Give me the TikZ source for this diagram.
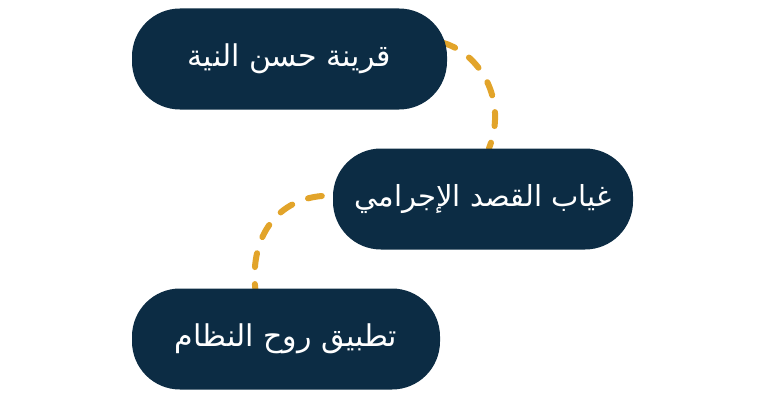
\documentclass[tikz,border=0pt]{standalone}
\usepackage{fontspec}
\usetikzlibrary{backgrounds}
\TeXXeTstate=1
\newfontfamily\arabicfont[Script=Arabic]{DejaVu Sans}
\definecolor{navy}{HTML}{0C2C44}
\definecolor{gold}{HTML}{E2A42A}
\begin{document}
\begin{tikzpicture}[x=1pt,y=-1pt,
  pill/.style={draw=none,fill=navy,rounded corners=48pt,text=white,
    font=\arabicfont\fontsize{30}{34}\selectfont,inner sep=0pt,minimum height=101pt},
  link/.style={draw=gold,line width=6pt,line cap=round,dash pattern=on 14pt off 17pt}]
\useasboundingbox (0,0) rectangle (768,420);
\node[pill,minimum width=315pt] (n1) at (289.5,59) {\raisebox{5pt}{\beginR قرينة حسن النية\endR}};
\node[pill,minimum width=300pt,font=\arabicfont\fontsize{29}{33}\selectfont] (n2) at (483,199) {\raisebox{3pt}{\beginR غياب القصد الإجرامي\endR}};
\node[pill,minimum width=308pt] (n3) at (286,339) {\raisebox{2pt}{\beginR تطبيق روح النظام\endR}};
\begin{scope}[on background layer]
\draw[link,dash phase=-2pt] ([xshift=-7pt,yshift=17pt]n1.east) .. controls (480,52) and (508,100) .. ([xshift=6pt,yshift=0pt]n2.north);
\draw[link] ([xshift=-11pt,yshift=3pt]n2.west) .. controls (275,200) and (248,240) .. ([xshift=-30pt,yshift=-6pt]n3.north);
\end{scope}
\end{tikzpicture}
\end{document}
